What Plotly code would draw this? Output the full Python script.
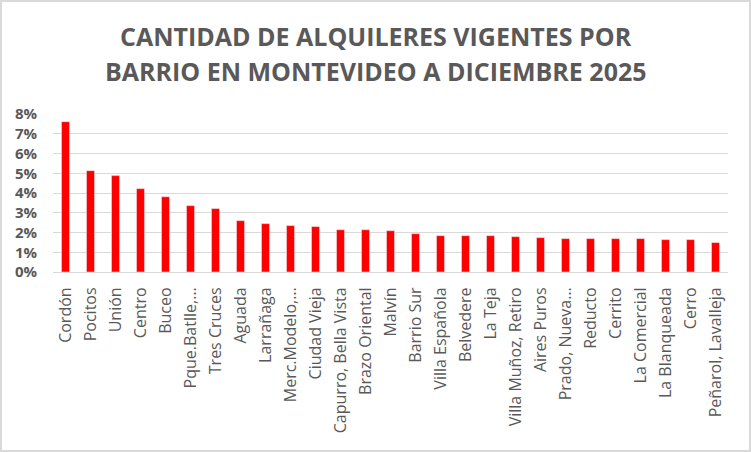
import plotly.graph_objects as go

barrios = ["Cordón", "Pocitos", "Unión", "Centro", "Buceo", "Pque.Batlle,…", "Tres Cruces",
           "Aguada", "Larrañaga", "Merc.Modelo,…", "Ciudad Vieja", "Capurro, Bella Vista",
           "Brazo Oriental", "Malvín", "Barrio Sur", "Villa Española", "Belvedere", "La Teja",
           "Villa Muñoz, Retiro", "Aires Puros", "Prado, Nueva…", "Reducto", "Cerrito",
           "La Comercial", "La Blanqueada", "Cerro", "Peñarol, Lavalleja"]
porcentaje = [0.0761, 0.0513, 0.0488, 0.0422, 0.0381, 0.0336, 0.0321,
              0.0260, 0.0245, 0.0235, 0.0230, 0.0214,
              0.0214, 0.0209, 0.0194, 0.0184, 0.0184, 0.0184,
              0.0179, 0.0174, 0.0169, 0.0169, 0.0169,
              0.0169, 0.0164, 0.0164, 0.0149]
y_ticks = [0, 0.01, 0.02, 0.03, 0.04, 0.05, 0.06, 0.07, 0.08]
titulo = ["CANTIDAD DE ALQUILERES VIGENTES POR", "BARRIO EN MONTEVIDEO A DICIEMBRE 2025"]

GRAY = "#595959"
W, H = 751, 452
L, R, T, B = 53, 23, 114, 180
pw, ph = W - L - R, H - T - B

fig = go.Figure(go.Bar(x=barrios, y=porcentaje, marker_color="#ff0000", width=0.32))

fig.update_layout(
    width=W, height=H,
    margin=dict(l=L, r=R, t=T, b=B, pad=0),
    plot_bgcolor="white", paper_bgcolor="white",
    showlegend=False,
    font=dict(family="Open Sans", color=GRAY),
)
fig.update_xaxes(
    tickangle=-90, tickfont=dict(size=16, color=GRAY, family="Open Sans"),
    showgrid=False, showline=False, ticks="outside", ticklen=8, tickcolor="rgba(0,0,0,0)",
    range=[-0.5, len(barrios) - 0.5],
)
fig.update_yaxes(
    range=[0, 0.08], tickvals=y_ticks, tickformat=".0%",
    tickfont=dict(size=15, color=GRAY, family="Open Sans", weight="bold"),
    showgrid=True, gridcolor="#d9d9d9", gridwidth=1,
    zeroline=True, zerolinecolor="#d9d9d9", zerolinewidth=1,
    ticks="outside", ticklen=12, tickcolor="rgba(0,0,0,0)",
)

for i, line in enumerate(titulo):
    fig.add_annotation(
        text=line, xref="paper", yref="paper",
        x=(376 - L) / pw, y=(H - B - (36 + 35 * i)) / ph,
        xanchor="center", yanchor="middle", showarrow=False,
        font=dict(size=25, color=GRAY, family="Open Sans", weight="bold"),
    )

# outer chart border
fig.add_shape(
    type="rect", xref="paper", yref="paper",
    x0=(1 - L) / pw, x1=(W - 1 - L) / pw,
    y0=(H - B - (H - 1)) / ph, y1=(H - B - 1) / ph,
    line=dict(color="#d9d9d9", width=2), fillcolor="rgba(0,0,0,0)", layer="below",
)

fig.write_html("out.html")
